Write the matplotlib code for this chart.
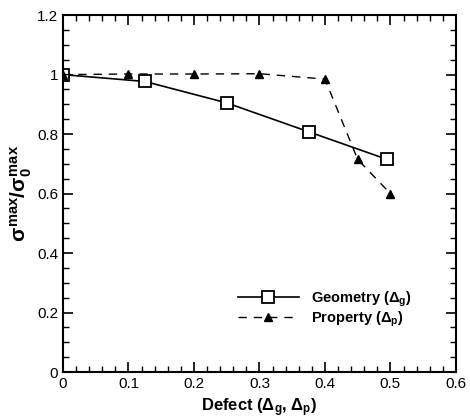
import matplotlib
matplotlib.use("Agg")
import matplotlib.pyplot as plt
from matplotlib.ticker import MultipleLocator

# Geometry defect series
geo_x = [0.0, 0.125, 0.25, 0.375, 0.495]
geo_y = [1.0, 0.977, 0.905, 0.808, 0.715]

# Property defect series
prop_x = [0.0, 0.1, 0.2, 0.3, 0.4, 0.45, 0.5]
prop_y = [1.0, 1.002, 1.002, 1.003, 0.985, 0.715, 0.600]

# tick positions and labels
x_ticks = [0.0, 0.1, 0.2, 0.3, 0.4, 0.5, 0.6]
x_labels = ['0', '0.1', '0.2', '0.3', '0.4', '0.5', '0.6']
y_ticks = [0.0, 0.2, 0.4, 0.6, 0.8, 1.0, 1.2]
y_labels = ['0', '0.2', '0.4', '0.6', '0.8', '1', '1.2']

plt.rcParams['font.family'] = ['Liberation Sans', 'DejaVu Sans']
plt.rcParams['mathtext.fontset'] = 'custom'
plt.rcParams['mathtext.rm'] = 'Liberation Sans:bold'
plt.rcParams['mathtext.it'] = 'Liberation Sans:bold'
plt.rcParams['mathtext.bf'] = 'Liberation Sans:bold'

fig = plt.figure(figsize=(4.7, 4.2), dpi=100)
ax = fig.add_axes([0.134, 0.114, 0.836, 0.85])

ax.plot(geo_x, geo_y, '-', color='black', lw=1.2, marker='s', ms=8,
        mfc='white', mec='black', mew=1.3, label=r'Geometry ($\Delta_g$)')
ax.plot(prop_x, prop_y, '--', color='black', lw=1.0, marker='^', ms=6,
        mfc='black', mec='black', dashes=(6, 5), label=r'Property ($\Delta_p$)')

ax.set_xlim(0, 0.6)
ax.set_ylim(0, 1.2)
ax.set_xticks(x_ticks)
ax.set_xticklabels(x_labels)
ax.set_yticks(y_ticks)
ax.set_yticklabels(y_labels)
ax.xaxis.set_minor_locator(MultipleLocator(0.02))
ax.yaxis.set_minor_locator(MultipleLocator(0.05))
ax.tick_params(which='both', direction='in', top=True, right=True, labelsize=11)
ax.tick_params(which='major', length=7, width=1.2)
ax.tick_params(which='minor', length=4, width=1.0)
for s in ax.spines.values():
    s.set_linewidth(1.5)

ax.set_xlabel(r'Defect ($\Delta_g$, $\Delta_p$)', fontsize=12, fontweight='bold')
ax.set_ylabel(r'$\sigma^{max}/\sigma_0^{max}$', fontsize=15, labelpad=2)

leg = ax.legend(loc='lower right', bbox_to_anchor=(0.92, 0.085), frameon=False,
                handlelength=4.2, handletextpad=0.8,
                prop={'weight': 'bold', 'size': 10.5}, labelspacing=0.05)

fig.savefig('out.png', dpi=100)
